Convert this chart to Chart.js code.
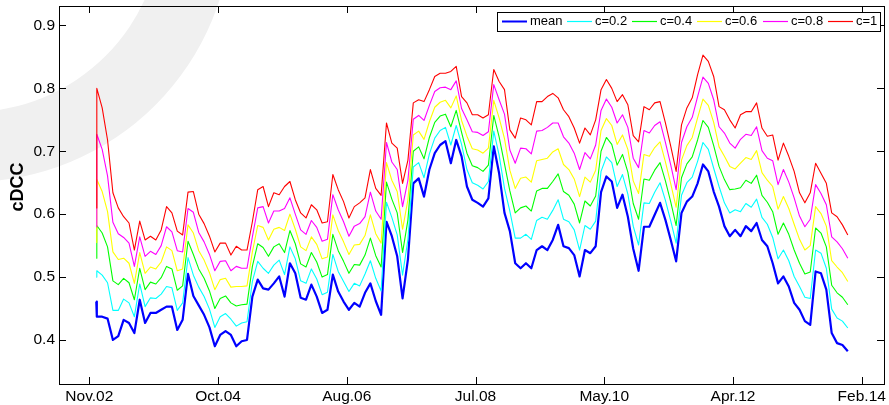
<!DOCTYPE html>
<html>
<head>
<meta charset="utf-8">
<script src="https://cdn.jsdelivr.net/npm/chart.js@4"></script>
<style>
  html, body { margin: 0; padding: 0; background: #fff; }
  #wrap { width: 889px; height: 405px; }
</style>
</head>
<body>
<div id="wrap"><canvas id="c" width="889" height="405"></canvas></div>
<script>
// x is measured in trading days; one sample every 20 days after the first observation
const firstObs = 26;
const startObs = 28;
const stepObs = 20;

const tickObs = [0, 480, 960, 1440, 1920, 2400, 2880];
const tickLabels = ['Nov.02', 'Oct.04', 'Aug.06', 'Jul.08', 'May.10', 'Apr.12', 'Feb.14'];
const yTicks = [0.4, 0.5, 0.6, 0.7, 0.8, 0.9];

const seriesNames = ['mean', 'c=0.2', 'c=0.4', 'c=0.6', 'c=0.8', 'c=1'];
const seriesColors = ['#0000ff', '#00ffff', '#00ff00', '#ffff00', '#ff00ff', '#ff0000'];

const meanCorr = [0.461,
  0.437,0.437,0.434,0.400,0.406,0.432,0.427,0.411,0.464,0.427,
  0.443,0.443,0.448,0.453,0.453,0.416,0.432,0.505,0.470,0.455,
  0.440,0.420,0.390,0.408,0.414,0.408,0.390,0.398,0.400,0.469,
  0.496,0.482,0.480,0.490,0.501,0.469,0.522,0.506,0.467,0.464,
  0.488,0.469,0.443,0.448,0.504,0.477,0.461,0.448,0.459,0.453,
  0.475,0.490,0.462,0.440,0.588,0.565,0.533,0.466,0.528,0.649,
  0.657,0.628,0.671,0.697,0.710,0.716,0.681,0.718,0.692,0.644,
  0.623,0.618,0.612,0.625,0.708,0.665,0.602,0.573,0.522,0.514,
  0.522,0.514,0.543,0.549,0.543,0.559,0.583,0.549,0.546,0.535,
  0.501,0.543,0.538,0.549,0.635,0.660,0.652,0.610,0.631,0.596,
  0.545,0.510,0.580,0.580,0.599,0.618,0.591,0.559,0.525,0.602,
  0.620,0.628,0.649,0.679,0.668,0.636,0.612,0.581,0.565,0.575,
  0.565,0.581,0.573,0.586,0.559,0.549,0.522,0.490,0.501,0.485,
  0.459,0.448,0.430,0.424,0.509,0.506,0.480,0.411,0.395,0.392,0.382];

const c02 = [0.500,
  0.510,0.503,0.491,0.447,0.447,0.465,0.459,0.437,0.489,0.453,
  0.467,0.466,0.473,0.485,0.483,0.447,0.459,0.531,0.503,0.484,
  0.469,0.449,0.420,0.437,0.442,0.433,0.422,0.427,0.429,0.493,
  0.525,0.514,0.506,0.519,0.527,0.504,0.548,0.529,0.494,0.490,
  0.513,0.497,0.472,0.476,0.536,0.509,0.493,0.477,0.490,0.486,
  0.505,0.526,0.498,0.478,0.619,0.595,0.567,0.503,0.560,0.675,
  0.682,0.658,0.696,0.721,0.733,0.738,0.710,0.741,0.711,0.671,
  0.650,0.646,0.640,0.652,0.732,0.694,0.641,0.605,0.562,0.562,
  0.568,0.560,0.590,0.595,0.592,0.606,0.623,0.592,0.588,0.575,
  0.543,0.582,0.576,0.589,0.668,0.691,0.682,0.644,0.663,0.632,
  0.581,0.551,0.618,0.617,0.635,0.650,0.622,0.589,0.554,0.630,
  0.650,0.659,0.684,0.714,0.703,0.673,0.644,0.618,0.602,0.607,
  0.604,0.617,0.611,0.624,0.595,0.584,0.563,0.529,0.543,0.526,
  0.501,0.485,0.468,0.466,0.543,0.538,0.514,0.449,0.435,0.430,0.419];

const c04 = [0.530,
  0.582,0.570,0.548,0.494,0.488,0.498,0.491,0.464,0.514,0.480,
  0.492,0.489,0.499,0.517,0.513,0.479,0.486,0.557,0.536,0.513,
  0.498,0.478,0.450,0.466,0.470,0.459,0.454,0.456,0.457,0.517,
  0.553,0.547,0.533,0.548,0.553,0.539,0.574,0.553,0.521,0.516,
  0.539,0.524,0.500,0.504,0.568,0.542,0.525,0.506,0.520,0.519,
  0.535,0.562,0.534,0.516,0.651,0.624,0.602,0.539,0.591,0.700,
  0.707,0.688,0.722,0.746,0.756,0.759,0.739,0.765,0.730,0.697,
  0.677,0.674,0.668,0.678,0.757,0.723,0.680,0.637,0.602,0.610,
  0.613,0.605,0.637,0.641,0.641,0.652,0.664,0.636,0.630,0.616,
  0.586,0.621,0.613,0.629,0.700,0.722,0.711,0.678,0.695,0.667,
  0.617,0.592,0.656,0.654,0.670,0.682,0.653,0.619,0.582,0.658,
  0.680,0.691,0.718,0.749,0.738,0.709,0.676,0.655,0.639,0.640,
  0.642,0.654,0.649,0.662,0.630,0.619,0.604,0.568,0.586,0.568,
  0.543,0.522,0.505,0.508,0.578,0.570,0.548,0.487,0.475,0.468,0.456];

const c06 = [0.555,
  0.655,0.636,0.604,0.540,0.528,0.530,0.522,0.490,0.539,0.506,
  0.516,0.513,0.524,0.548,0.542,0.510,0.513,0.583,0.570,0.542,
  0.527,0.507,0.480,0.496,0.498,0.484,0.485,0.485,0.486,0.540,
  0.582,0.579,0.559,0.576,0.579,0.574,0.600,0.576,0.548,0.542,
  0.564,0.552,0.529,0.532,0.599,0.574,0.556,0.536,0.551,0.552,
  0.566,0.599,0.569,0.554,0.682,0.654,0.636,0.576,0.623,0.726,
  0.732,0.719,0.747,0.770,0.778,0.781,0.769,0.788,0.749,0.724,
  0.704,0.702,0.697,0.705,0.781,0.753,0.720,0.670,0.641,0.657,
  0.659,0.651,0.685,0.687,0.689,0.699,0.704,0.679,0.671,0.656,
  0.628,0.659,0.651,0.670,0.733,0.752,0.741,0.711,0.726,0.703,
  0.653,0.633,0.695,0.692,0.706,0.715,0.683,0.648,0.611,0.686,
  0.709,0.722,0.753,0.783,0.773,0.746,0.707,0.692,0.676,0.672,
  0.681,0.690,0.687,0.701,0.666,0.654,0.644,0.608,0.628,0.609,
  0.584,0.560,0.543,0.550,0.612,0.601,0.581,0.526,0.516,0.507,0.493];

const c08 = [0.580,
  0.727,0.703,0.661,0.587,0.569,0.563,0.554,0.517,0.564,0.533,
  0.541,0.536,0.550,0.580,0.572,0.542,0.540,0.609,0.603,0.571,
  0.556,0.536,0.510,0.525,0.526,0.510,0.517,0.514,0.514,0.564,
  0.610,0.612,0.586,0.605,0.605,0.609,0.626,0.600,0.575,0.568,
  0.590,0.579,0.557,0.560,0.631,0.607,0.588,0.565,0.581,0.585,
  0.596,0.635,0.605,0.592,0.714,0.683,0.671,0.612,0.654,0.751,
  0.757,0.749,0.773,0.795,0.801,0.802,0.798,0.812,0.768,0.750,
  0.731,0.730,0.725,0.731,0.806,0.782,0.759,0.702,0.681,0.705,
  0.704,0.696,0.732,0.733,0.738,0.745,0.745,0.723,0.713,0.697,
  0.671,0.698,0.688,0.710,0.765,0.783,0.770,0.745,0.758,0.738,
  0.689,0.674,0.733,0.729,0.741,0.747,0.714,0.678,0.639,0.714,
  0.739,0.754,0.787,0.818,0.808,0.782,0.739,0.729,0.713,0.705,
  0.719,0.727,0.725,0.739,0.701,0.689,0.685,0.647,0.671,0.651,
  0.626,0.597,0.580,0.592,0.647,0.633,0.615,0.564,0.556,0.545,0.530];

const c10 = [0.610,
  0.800,0.769,0.718,0.634,0.610,0.596,0.586,0.543,0.589,0.559,
  0.565,0.559,0.575,0.612,0.602,0.573,0.567,0.635,0.636,0.600,
  0.585,0.565,0.540,0.554,0.554,0.535,0.549,0.543,0.543,0.588,
  0.639,0.644,0.612,0.634,0.631,0.644,0.652,0.623,0.602,0.594,
  0.615,0.607,0.586,0.588,0.663,0.639,0.620,0.594,0.612,0.618,
  0.626,0.671,0.641,0.630,0.745,0.713,0.705,0.649,0.686,0.777,
  0.782,0.779,0.798,0.819,0.824,0.824,0.827,0.835,0.787,0.777,
  0.758,0.758,0.753,0.758,0.830,0.811,0.798,0.734,0.721,0.753,
  0.750,0.742,0.779,0.779,0.787,0.792,0.785,0.766,0.755,0.737,
  0.713,0.737,0.726,0.750,0.798,0.814,0.800,0.779,0.790,0.774,
  0.725,0.715,0.771,0.766,0.777,0.779,0.745,0.708,0.668,0.742,
  0.769,0.785,0.822,0.853,0.843,0.819,0.771,0.766,0.750,0.737,
  0.758,0.763,0.763,0.777,0.737,0.724,0.726,0.686,0.713,0.692,
  0.668,0.634,0.618,0.634,0.681,0.665,0.649,0.602,0.596,0.583,0.567];

const allSeries = [meanCorr, c02, c04, c06, c08, c10];
const obs = meanCorr.map((_, k) => k === 0 ? firstObs : startObs + stepObs * (k - 1));

const FONT = "'Liberation Sans', Arial, Helvetica, sans-serif";

// faint grey swoosh behind the figure
const backdrop = {
  id: 'backdrop',
  beforeDraw(chart) {
    const ctx = chart.ctx;
    ctx.save();
    ctx.fillStyle = '#ffffff';
    ctx.fillRect(0, 0, chart.width, chart.height);
    ctx.fillStyle = '#f0f0f0';
    ctx.beginPath();
    ctx.arc(-30, -80, 262, 0, Math.PI * 2);
    ctx.arc(-30, -80, 192, 0, Math.PI * 2, true);
    ctx.fill();
    ctx.restore();
  }
};

// matlab-style box with inward ticks, legend and y label
const decor = {
  id: 'decor',
  afterDraw(chart) {
    const { ctx, chartArea: a, scales: { x, y } } = chart;
    const tl = 7;
    ctx.save();
    ctx.strokeStyle = '#000';
    ctx.lineWidth = 1;
    ctx.beginPath();
    y.ticks.forEach(t => {
      const py = Math.round(y.getPixelForValue(t.value)) + 0.5;
      ctx.moveTo(a.left, py); ctx.lineTo(a.left + tl, py);
      ctx.moveTo(a.right, py); ctx.lineTo(a.right - tl, py);
    });
    x.ticks.forEach(t => {
      const px = Math.round(x.getPixelForValue(t.value)) + 0.5;
      ctx.moveTo(px, a.bottom); ctx.lineTo(px, a.bottom - tl);
      ctx.moveTo(px, a.top); ctx.lineTo(px, a.top + tl);
    });
    ctx.stroke();
    ctx.strokeRect(Math.round(a.left) + 0.5, Math.round(a.top) + 0.5,
      Math.round(a.right - a.left), Math.round(a.bottom - a.top));

    // legend
    const box = { x: 497.5, y: 12.5, w: 383, h: 19 };
    ctx.fillStyle = '#fff';
    ctx.fillRect(box.x, box.y, box.w, box.h);
    ctx.strokeRect(box.x, box.y, box.w, box.h);
    const starts = [502, 567, 632, 697, 763, 828];
    const ly = 21.5;
    ctx.font = '13px ' + FONT;
    ctx.textAlign = 'left';
    ctx.textBaseline = 'middle';
    seriesNames.forEach((name, k) => {
      ctx.strokeStyle = seriesColors[k];
      ctx.lineWidth = k === 0 ? 2 : 1.2;
      ctx.beginPath();
      ctx.moveTo(starts[k], ly);
      ctx.lineTo(starts[k] + 25, ly);
      ctx.stroke();
      ctx.fillStyle = '#000';
      ctx.fillText(name, starts[k] + 28, ly);
    });

    // y axis label
    ctx.translate(18, 187);
    ctx.rotate(-Math.PI / 2);
    ctx.font = 'bold 18px ' + FONT;
    ctx.textAlign = 'center';
    ctx.fillStyle = '#000';
    ctx.fillText('cDCC', 0, 0);
    ctx.restore();
  }
};

new Chart(document.getElementById('c'), {
  type: 'line',
  data: {
    datasets: allSeries.map((vals, k) => ({
      label: seriesNames[k],
      data: vals.map((v, j) => ({ x: obs[j], y: v })),
      borderColor: seriesColors[k],
      borderWidth: k === 0 ? 2.2 : 1.1,
      pointRadius: 0,
      tension: 0,
      borderJoinStyle: 'round',
      order: allSeries.length - 1 - k
    }))
  },
  options: {
    responsive: false,
    animation: false,
    devicePixelRatio: 1,
    layout: { padding: { left: 0, right: 5, top: 6, bottom: 0 } },
    plugins: { legend: { display: false }, tooltip: { enabled: false } },
    scales: {
      x: {
        type: 'linear',
        min: -113,
        max: 2963,
        grid: { display: false, drawTicks: false },
        border: { display: false },
        afterBuildTicks: s => { s.ticks = tickObs.map(v => ({ value: v })); },
        afterFit: s => { s.height = 21; s.paddingLeft = 0; s.paddingRight = 0; },
        ticks: {
          autoSkip: false,
          maxRotation: 0,
          padding: 3,
          color: '#000',
          font: { family: FONT, size: 15.5 },
          callback: v => tickLabels[tickObs.indexOf(v)]
        }
      },
      y: {
        min: 0.33,
        max: 0.931,
        grid: { display: false, drawTicks: false },
        border: { display: false },
        afterBuildTicks: s => { s.ticks = yTicks.map(v => ({ value: v })); },
        afterFit: s => { s.width = 59; s.paddingTop = 0; s.paddingBottom = 0; },
        ticks: {
          padding: 4,
          color: '#000',
          font: { family: FONT, size: 15.5 },
          callback: v => v.toFixed(1)
        }
      }
    }
  },
  plugins: [backdrop, decor]
});
</script>
</body>
</html>
